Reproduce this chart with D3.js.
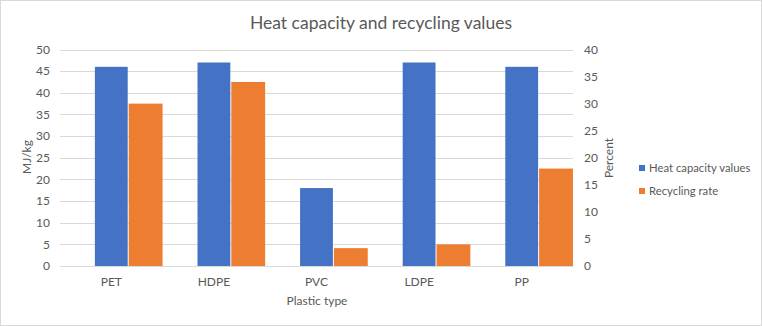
<!DOCTYPE html>
<html>
<head>
<meta charset="utf-8">
<style>
  body { margin: 0; background: #fff; }
  text { font-family: Lato, "Open Sans", sans-serif; fill: #595959; }
  .grid line { stroke: #d9d9d9; }
</style>
</head>
<body>
<div id="chart"></div>
<script src="https://cdnjs.cloudflare.com/ajax/libs/d3/7.8.5/d3.min.js"></script>
<script>
// data
var plastics = ["PET", "HDPE", "PVC", "LDPE", "PP"];
var heatValues = [46, 47, 18, 47, 46];        // MJ/kg, left axis
var recyclingRate = [30, 34, 3.3, 4, 18];     // percent, right axis
var leftTicks = [0, 5, 10, 15, 20, 25, 30, 35, 40, 45, 50];
var rightTicks = [0, 5, 10, 15, 20, 25, 30, 35, 40];
var seriesNames = ["Heat capacity values", "Recycling rate"];
var colours = ["#4472C4", "#ED7D31"];

var W = 762, H = 326;
var plot = { left: 60, right: 573, top: 49.5, bottom: 266 };

var svg = d3.select("#chart").append("svg")
    .attr("width", W).attr("height", H);

svg.append("rect")
    .attr("x", 0.5).attr("y", 0.5)
    .attr("width", W - 1).attr("height", H - 1)
    .attr("fill", "#fff").attr("stroke", "#d9d9d9");

var x = d3.scaleBand().domain(plastics).range([plot.left, plot.right]);
var yL = d3.scaleLinear().domain([0, 50]).range([plot.bottom, plot.top]);
var yR = d3.scaleLinear().domain([0, 40]).range([plot.bottom, plot.top]);

// gridlines
svg.append("g").attr("class", "grid")
  .selectAll("line").data(leftTicks).enter().append("line")
    .attr("x1", plot.left).attr("x2", plot.right)
    .attr("y1", function(d){ return Math.round(yL(d)) + 0.5; })
    .attr("y2", function(d){ return Math.round(yL(d)) + 0.5; });

var barW = x.bandwidth() * 0.32;

// blue sits centred on the category, orange right next to it
svg.append("g").selectAll("rect").data(plastics).enter().append("rect")
    .attr("x", function(d){ return x(d) + x.bandwidth() / 2 - barW / 2; })
    .attr("y", function(d, i){ return yL(heatValues[i]); })
    .attr("width", barW)
    .attr("height", function(d, i){ return plot.bottom - yL(heatValues[i]); })
    .attr("fill", colours[0]);

svg.append("g").selectAll("rect").data(plastics).enter().append("rect")
    .attr("x", function(d){ return x(d) + x.bandwidth() / 2 + barW / 2 + 1; })
    .attr("y", function(d, i){ return yR(recyclingRate[i]); })
    .attr("width", barW + 1)
    .attr("height", function(d, i){ return plot.bottom - yR(recyclingRate[i]); })
    .attr("fill", colours[1]);

// left axis
var axL = svg.append("g")
    .attr("transform", "translate(" + (plot.left - 10) + ",0)")
    .call(d3.axisLeft(yL).tickValues(leftTicks).tickSize(0).tickPadding(0));
axL.select(".domain").remove();

// right axis
var axR = svg.append("g")
    .attr("transform", "translate(" + (plot.right + 11) + ",0)")
    .call(d3.axisRight(yR).tickValues(rightTicks).tickSize(0).tickPadding(0));
axR.select(".domain").remove();

// category axis
var axB = svg.append("g")
    .attr("transform", "translate(0," + plot.bottom + ")")
    .call(d3.axisBottom(x).tickSize(0).tickPadding(11));
axB.select(".domain").attr("stroke", "#d9d9d9");

svg.selectAll(".tick text")
    .style("font-family", "Lato, 'Open Sans', sans-serif")
    .style("font-size", "12px")
    .attr("fill", "#595959");

// titles
svg.append("text")
    .attr("x", 381).attr("y", 29)
    .attr("text-anchor", "middle")
    .style("font-size", "17.5px")
    .text("Heat capacity and recycling values");

svg.append("text")
    .attr("transform", "translate(31,157) rotate(-90)")
    .attr("text-anchor", "middle")
    .style("font-size", "12px")
    .text("MJ/kg");

svg.append("text")
    .attr("transform", "translate(613,158) rotate(-90)")
    .attr("text-anchor", "middle")
    .style("font-size", "12px")
    .text("Percent");

svg.append("text")
    .attr("x", 317).attr("y", 305)
    .attr("text-anchor", "middle")
    .style("font-size", "12px")
    .text("Plastic type");

// legend
var leg = svg.append("g").selectAll("g").data(seriesNames).enter().append("g")
    .attr("transform", function(d, i){ return "translate(639," + (168 + i * 23) + ")"; });
leg.append("rect")
    .attr("x", 0).attr("y", -3).attr("width", 6).attr("height", 6)
    .attr("fill", function(d, i){ return colours[i]; });
leg.append("text")
    .attr("x", 10).attr("y", 4)
    .style("font-size", "11.3px")
    .text(function(d){ return d; });
</script>
</body>
</html>
